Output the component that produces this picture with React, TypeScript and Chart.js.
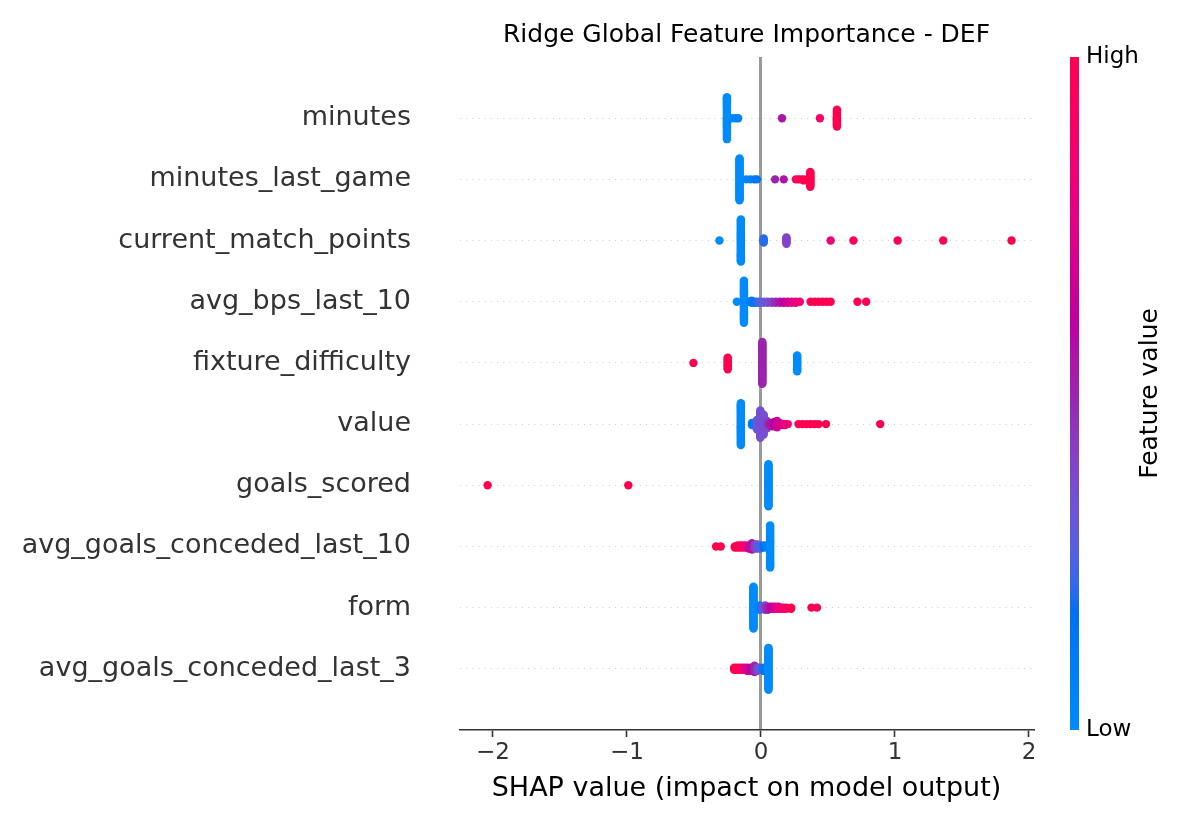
import React, { useEffect, useRef } from "react";
import { Chart, registerables } from "chart.js";

Chart.register(...registerables);

// ---------------- data ----------------
const TITLE = "Ridge Global Feature Importance - DEF";
const X_LABEL = "SHAP value (impact on model output)";
const CBAR_LABEL = "Feature value";
const CBAR_HIGH = "High";
const CBAR_LOW = "Low";
const X_TICKS = [-2, -1, 0, 1, 2];

const FEATURES = [
  "minutes",
  "minutes_last_game",
  "current_match_points",
  "avg_bps_last_10",
  "fixture_difficulty",
  "value",
  "goals_scored",
  "avg_goals_conceded_last_10",
  "form",
  "avg_goals_conceded_last_3",
];

// each entry: [SHAP value, feature value (0 = low, 1 = high), number of samples]
const MINUTES = [
  [-0.254, 0.0, 41],
  [-0.215, 0.02, 1],
  [-0.19, 0.03, 1],
  [-0.17, 0.04, 1],
  [0.157, 0.55, 1],
  [0.44, 0.9, 1],
  [0.567, 1.0, 17],
];
const MINUTES_LAST_GAME = [
  [-0.16, 0.0, 41],
  [-0.11, 0.03, 1],
  [-0.08, 0.06, 1],
  [-0.05, 0.12, 1],
  [-0.03, 0.15, 1],
  [0.105, 0.5, 1],
  [0.17, 0.55, 1],
  [0.26, 0.95, 1],
  [0.28, 0.97, 1],
  [0.3, 1.0, 1],
  [0.32, 1.0, 2],
  [0.368, 1.0, 15],
];
const CURRENT_MATCH_POINTS = [
  [-0.31, 0.0, 1],
  [-0.15, 0.0, 41],
  [0.02, 0.2, 5],
  [0.19, 0.4, 7],
  [0.52, 0.85, 1],
  [0.69, 0.95, 1],
  [1.02, 1.0, 1],
  [1.36, 1.0, 1],
  [1.87, 1.0, 1],
];
const AVG_BPS_LAST_10 = [
  [-0.18, 0.0, 1],
  [-0.127, 0.0, 41],
  [-0.09, 0.05, 1],
  [-0.07, 0.1, 3],
  [-0.05, 0.15, 2],
  [-0.03, 0.2, 2],
  [-0.01, 0.25, 2],
  [0.02, 0.3, 2],
  [0.05, 0.35, 2],
  [0.08, 0.4, 2],
  [0.11, 0.48, 2],
  [0.14, 0.55, 2],
  [0.17, 0.62, 2],
  [0.2, 0.68, 2],
  [0.23, 0.74, 2],
  [0.26, 0.8, 2],
  [0.29, 0.85, 1],
  [0.37, 0.95, 1],
  [0.4, 1.0, 1],
  [0.43, 1.0, 1],
  [0.46, 1.0, 1],
  [0.49, 1.0, 1],
  [0.52, 1.0, 1],
  [0.72, 1.0, 1],
  [0.785, 1.0, 1],
];
const FIXTURE_DIFFICULTY = [
  [-0.504, 1.0, 1],
  [-0.248, 1.0, 12],
  [0.01, 0.5, 41],
  [0.27, 0.0, 16],
];
const VALUE = [
  [-0.15, 0.0, 41],
  [-0.067, 0.1, 3],
  [-0.03, 0.3, 10],
  [-0.005, 0.35, 27],
  [0.02, 0.35, 20],
  [0.045, 0.38, 8],
  [0.06, 0.5, 3],
  [0.08, 0.55, 4],
  [0.1, 0.6, 5],
  [0.12, 0.65, 7],
  [0.14, 0.7, 3],
  [0.16, 0.75, 2],
  [0.18, 0.8, 2],
  [0.2, 0.85, 1],
  [0.28, 0.95, 1],
  [0.31, 1.0, 1],
  [0.34, 1.0, 1],
  [0.37, 1.0, 1],
  [0.4, 1.0, 1],
  [0.43, 1.0, 1],
  [0.485, 1.0, 1],
  [0.89, 1.0, 1],
];
const GOALS_SCORED = [
  [-2.04, 1.0, 1],
  [-0.99, 1.0, 1],
  [0.056, 0.0, 41],
];
const AVG_GOALS_CONCEDED_LAST_10 = [
  [-0.335, 1.0, 1],
  [-0.3, 1.0, 1],
  [-0.195, 1.0, 2],
  [-0.175, 1.0, 3],
  [-0.155, 0.95, 3],
  [-0.135, 0.9, 3],
  [-0.115, 0.82, 3],
  [-0.09, 0.7, 4],
  [-0.067, 0.55, 7],
  [-0.045, 0.4, 5],
  [-0.025, 0.32, 5],
  [-0.005, 0.25, 4],
  [0.02, 0.15, 3],
  [0.045, 0.08, 3],
  [0.068, 0.0, 41],
];
const FORM = [
  [-0.056, 0.0, 41],
  [-0.01, 0.08, 5],
  [0.01, 0.25, 3],
  [0.03, 0.4, 5],
  [0.05, 0.5, 4],
  [0.07, 0.58, 3],
  [0.09, 0.65, 3],
  [0.11, 0.72, 3],
  [0.13, 0.78, 3],
  [0.15, 0.83, 2],
  [0.17, 0.88, 2],
  [0.19, 0.93, 2],
  [0.225, 1.0, 2],
  [0.377, 1.0, 1],
  [0.418, 1.0, 1],
];
const AVG_GOALS_CONCEDED_LAST_3 = [
  [-0.2, 1.0, 3],
  [-0.18, 1.0, 3],
  [-0.16, 0.95, 3],
  [-0.14, 0.9, 3],
  [-0.12, 0.8, 3],
  [-0.1, 0.7, 4],
  [-0.075, 0.6, 4],
  [-0.048, 0.5, 7],
  [-0.03, 0.4, 4],
  [-0.01, 0.3, 3],
  [0.019, 0.12, 4],
  [0.056, 0.0, 41],
];

const ROWS = [
  MINUTES,
  MINUTES_LAST_GAME,
  CURRENT_MATCH_POINTS,
  AVG_BPS_LAST_10,
  FIXTURE_DIFFICULTY,
  VALUE,
  GOALS_SCORED,
  AVG_GOALS_CONCEDED_LAST_10,
  FORM,
  AVG_GOALS_CONCEDED_LAST_3,
];

// ---------------- helpers ----------------
const FONT = "'DejaVu Sans', 'Liberation Sans', sans-serif";
const NBINS = 100;
const ROW_HEIGHT = 0.4;

// SHAP red_blue colour map (Lch interpolation, lightness dipping to 40 in the middle)
function shapColor(t: number): string {
  const L = t < 0.5 ? 54 + (40 - 54) * (t / 0.5) : 40 + (54 - 40) * ((t - 0.5) / 0.5);
  const C = 70 + (90 - 70) * t;
  const h0 = 4.6588;
  const h1 = 0.35470565 + 2 * Math.PI;
  const h = h0 + (h1 - h0) * t;
  const a = C * Math.cos(h);
  const b = C * Math.sin(h);
  const fy = (L + 16) / 116;
  const fx = fy + a / 500;
  const fz = fy - b / 200;
  const finv = (v: number) => (v > 6 / 29 ? v * v * v : 3 * (6 / 29) ** 2 * (v - 4 / 29));
  const X = 0.95047 * finv(fx);
  const Y = finv(fy);
  const Z = 1.08883 * finv(fz);
  const lin = [
    3.2406 * X - 1.5372 * Y - 0.4986 * Z,
    -0.9689 * X + 1.8758 * Y + 0.0415 * Z,
    0.0557 * X - 0.204 * Y + 1.057 * Z,
  ];
  const out = lin.map((v) => {
    const g = v > 0.0031308 ? 1.055 * Math.pow(v, 1 / 2.4) - 0.055 : 12.92 * v;
    return Math.round(Math.min(1, Math.max(0, g)) * 255);
  });
  return `rgb(${out[0]},${out[1]},${out[2]})`;
}

// SHAP beeswarm layout: stack samples that fall in the same bin
function swarm(row: number[][], rowIndex: number) {
  const shaps: number[] = [];
  const cols: number[] = [];
  row.forEach(([v, c, n]) => {
    for (let k = 0; k < n; k++) {
      shaps.push(v);
      cols.push(c);
    }
  });
  const N = shaps.length;
  const mn = Math.min(...shaps);
  const mx = Math.max(...shaps);
  const quant = shaps.map((s) => Math.round((NBINS * (s - mn)) / (mx - mn + 1e-8)));
  const inds = shaps.map((_, i) => i).sort((p, q) => quant[p] - quant[q] || p - q);
  const ys = new Array(N).fill(0);
  let layer = 0;
  let last = -1;
  for (const ind of inds) {
    if (quant[ind] !== last) layer = 0;
    ys[ind] = Math.ceil(layer / 2) * ((layer % 2) * 2 - 1);
    layer += 1;
    last = quant[ind];
  }
  const maxY = Math.max(...ys.map((y) => y + 1));
  const k = 0.9 * (ROW_HEIGHT / maxY);
  return shaps.map((s, i) => ({ x: s, y: rowIndex + ys[i] * k, color: shapColor(cols[i]) }));
}

const colorbarPlugin = {
  id: "shapColorbar",
  afterDraw(chart: any) {
    const { ctx, chartArea } = chart;
    const top = chartArea.top;
    const bottom = chartArea.bottom;
    const x0 = chartArea.right + 37;
    const w = 9;
    const grad = ctx.createLinearGradient(0, bottom, 0, top);
    const steps = 40;
    for (let i = 0; i <= steps; i++) grad.addColorStop(i / steps, shapColor(i / steps));
    ctx.save();
    ctx.fillStyle = grad;
    ctx.fillRect(x0, top, w, bottom - top);
    ctx.fillStyle = "#000";
    ctx.font = `23px ${FONT}`;
    ctx.textAlign = "left";
    ctx.textBaseline = "middle";
    ctx.fillText(CBAR_HIGH, x0 + w + 7, top);
    ctx.fillText(CBAR_LOW, x0 + w + 7, bottom);
    ctx.font = `25px ${FONT}`;
    ctx.translate(x0 + 80, (top + bottom) / 2);
    ctx.rotate(-Math.PI / 2);
    ctx.textAlign = "center";
    ctx.textBaseline = "middle";
    ctx.fillText(CBAR_LABEL, 0, 0);
    ctx.restore();
  },
};

export default function App() {
  const ref = useRef<HTMLCanvasElement>(null);

  useEffect(() => {
    if (!ref.current) return;
    Chart.defaults.font.family = FONT;
    const datasets = ROWS.map((row, i) => {
      const pts = swarm(row, i);
      return {
        label: FEATURES[i],
        data: pts.map((p) => ({ x: p.x, y: p.y })),
        backgroundColor: pts.map((p) => p.color),
        pointRadius: 4.2,
        pointHoverRadius: 4.2,
        borderWidth: 0,
      };
    });

    const chart = new Chart(ref.current, {
      type: "scatter",
      data: { datasets },
      plugins: [colorbarPlugin],
      options: {
        animation: false,
        responsive: false,
        events: [],
        layout: { padding: { left: 0, right: 167, top: 0, bottom: 16 } },
        plugins: {
          legend: { display: false },
          tooltip: { enabled: false },
          title: {
            display: true,
            text: TITLE,
            color: "#000",
            fullSize: false,
            font: { size: 25, weight: "normal", family: FONT },
            padding: { top: 20, bottom: 7 },
          },
        },
        scales: {
          x: {
            type: "linear",
            min: -2.246,
            max: 2.03,
            afterBuildTicks: (scale: any) => {
              scale.ticks = X_TICKS.map((v) => ({ value: v }));
            },
            grid: {
              drawOnChartArea: true,
              drawTicks: true,
              tickLength: 7,
              tickWidth: 1.6,
              tickColor: "#333333",
              lineWidth: 3,
              color: (c: any) => (c.tick && c.tick.value === 0 ? "#999999" : "rgba(0,0,0,0)"),
            },
            border: { display: true, color: "#333333", width: 1.6 },
            ticks: {
              color: "#333333",
              padding: 2,
              font: { size: 23, family: FONT },
              callback: (v: any) => (v < 0 ? "\u2212" + Math.abs(v) : String(v)),
            },
            title: {
              display: true,
              text: X_LABEL,
              color: "#000",
              font: { size: 27, family: FONT },
              padding: { top: 4, bottom: 4 },
            },
          },
          y: {
            type: "linear",
            min: -1,
            max: FEATURES.length,
            reverse: true,
            afterFit: (scale: any) => {
              scale.width = 460;
              scale.paddingTop = 0;
              scale.paddingBottom = 0;
            },
            ticks: {
              stepSize: 1,
              autoSkip: false,
              padding: 49,
              color: "#333333",
              font: { size: 27, family: FONT },
              callback: (v: any) =>
                Number.isInteger(v) && v >= 0 && v < FEATURES.length ? FEATURES[v] : "",
            },
            grid: {
              drawTicks: false,
              lineWidth: 1,
              color: (c: any) =>
                c.tick && c.tick.value >= 0 && c.tick.value < FEATURES.length
                  ? "#cccccc"
                  : "rgba(0,0,0,0)",
            },
            border: { display: false, dash: [1, 5.2] },
          },
        },
      } as any,
    });
    return () => chart.destroy();
  }, []);

  return (
    <div style={{ position: "fixed", left: 0, top: 0, width: 1200, height: 825, background: "#fff" }}>
      <canvas ref={ref} width={1200} height={825} style={{ display: "block", width: 1200, height: 825 }} />
    </div>
  );
}
